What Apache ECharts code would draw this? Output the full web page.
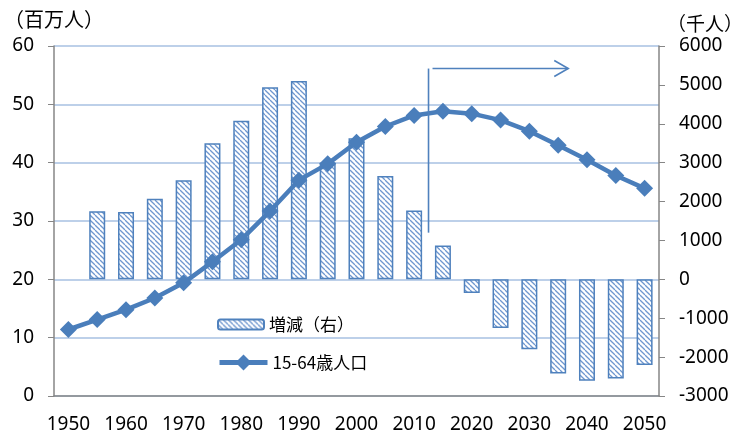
<!DOCTYPE html>
<html>
<head>
<meta charset="utf-8">
<script src="https://cdn.jsdelivr.net/npm/echarts@6/dist/echarts.min.js"></script>
<style>
html,body{margin:0;padding:0;background:#fff;}
#main{width:741px;height:438px;}
</style>
</head>
<body>
<div id="main"></div>
<script>
// 年
var years = ['1950','1955','1960','1965','1970','1975','1980','1985','1990','1995','2000',
             '2005','2010','2015','2020','2025','2030','2035','2040','2045','2050'];
// 15-64歳人口（百万人）
var pop = [11.4, 13.1, 14.8, 16.8, 19.4, 23.0, 26.8, 31.7, 37.0, 39.8, 43.5,
           46.2, 48.1, 48.8, 48.4, 47.3, 45.4, 43.0, 40.5, 37.8, 35.6];
// 増減（千人, 右軸）
var change = [null, 1750, 1730, 2070, 2550, 3500, 4080, 4940, 5100, 3000, 3630,
              2660, 1770, 870, -350, -1250, -1800, -2420, -2610, -2550, -2200];

var blue = '#4a7ebb';
var font = "'Noto Sans CJK JP', 'Noto Sans', sans-serif";

// 斜線ハッチ
function makeHatch(){
    var s = 5;
    var c = document.createElement('canvas');
    c.width = s; c.height = s;
    var ctx = c.getContext('2d');
    ctx.fillStyle = '#fff';
    ctx.fillRect(0,0,s,s);
    ctx.strokeStyle = '#6f97cf';
    ctx.lineWidth = 1.3;
    for (var i=-s;i<=s;i+=s){
        ctx.beginPath();
        ctx.moveTo(i,0);
        ctx.lineTo(i+s,s);
        ctx.stroke();
    }
    return c;
}

var myChart = echarts.init(document.getElementById('main'));
var legendText = {fontSize:17, color:'#000', fontFamily:font};
var option = {
    animation:false,
    backgroundColor:'#fff',
    textStyle:{fontFamily:font},
    grid:{left:54, right:82, top:46, bottom:42, containLabel:false, outerBoundsMode:'none'},
    legend:[
        {
            left:212, top:311,
            itemWidth:46, itemHeight:10,
            textStyle:legendText,
            data:['増減（右）']
        },
        {
            left:212, top:349,
            itemWidth:48, itemHeight:20,
            textStyle:legendText,
            lineStyle:{width:5},
            data:['15-64歳人口']
        }
    ],
    xAxis:{
        type:'category',
        data:years,
        axisLine:{lineStyle:{color:'#868686', width:1.5}},
        axisTick:{interval:0, length:6, lineStyle:{color:'#868686'}},
        axisLabel:{interval:1, fontSize:19, color:'#000', margin:19, fontFamily:'Noto Sans'}
    },
    yAxis:[
        {
            type:'value', min:0, max:60, interval:10,
            name:'（百万人）', nameLocation:'end', nameGap:17,
            nameTextStyle:{fontSize:20, color:'#000', fontFamily:font},
            axisLine:{show:true, lineStyle:{color:'#868686', width:1.5}},
            axisTick:{show:true, length:6, lineStyle:{color:'#868686'}},
            axisLabel:{fontSize:19, color:'#000', margin:20, fontFamily:'Noto Sans'},
            splitLine:{lineStyle:{color:'#a7c0e2', width:1.5}}
        },
        {
            type:'value', min:-3000, max:6000, interval:1000,
            name:'（千人）', nameLocation:'end', nameGap:13,
            nameTextStyle:{fontSize:19, color:'#000', fontFamily:font, align:'left', padding:[0,0,0,8]},
            axisLine:{show:true, lineStyle:{color:'#868686', width:1.5}},
            axisTick:{show:true, length:6, lineStyle:{color:'#868686'}},
            axisLabel:{fontSize:19, color:'#000', margin:20, fontFamily:'Noto Sans',
                       formatter:function(v){ return String(v); }},
            splitLine:{show:false}
        }
    ],
    series:[
        {
            name:'増減（右）',
            type:'bar',
            yAxisIndex:1,
            barWidth:16,
            data:change,
            itemStyle:{
                color:{image:makeHatch(), repeat:'repeat'},
                borderColor:'#4f81bd',
                borderWidth:1.5
            }
        },
        {
            name:'15-64歳人口',
            type:'line',
            yAxisIndex:0,
            data:pop,
            symbol:'diamond',
            symbolSize:17,
            lineStyle:{color:blue, width:4.5},
            itemStyle:{color:blue},
            z:5
        }
    ]
};
myChart.setOption(option);

// 矢印（2010年と2015年の間から右へ）
var arrowFrom = ['2010','2015'];
var arrowEnd = 17.35;     // カテゴリ位置
var arrowTop = 5420, arrowBottom = 1200;  // 右軸の値
function drawArrow(){
    var xa = myChart.convertToPixel({xAxisIndex:0}, arrowFrom[0]);
    var xb = myChart.convertToPixel({xAxisIndex:0}, arrowFrom[1]);
    var x0 = (xa + xb) / 2;
    var step = xb - xa;
    var xBase = myChart.convertToPixel({xAxisIndex:0}, years[0]);
    var x1 = xBase + step * arrowEnd;
    var yT = myChart.convertToPixel({yAxisIndex:1}, arrowTop);
    var yB = myChart.convertToPixel({yAxisIndex:1}, arrowBottom);
    var st = {stroke:'#4f81bd', lineWidth:1.6, fill:null};
    myChart.setOption({
        graphic:[
            {type:'line', shape:{x1:x0, y1:yT, x2:x0, y2:yB}, style:st, z:10},
            {type:'line', shape:{x1:x0+4, y1:yT, x2:x1, y2:yT}, style:st, z:10},
            {type:'polyline', shape:{points:[[x1-14,yT-8],[x1,yT],[x1-14,yT+8]]}, style:st, z:10}
        ]
    });
}
drawArrow();
</script>
</body>
</html>
